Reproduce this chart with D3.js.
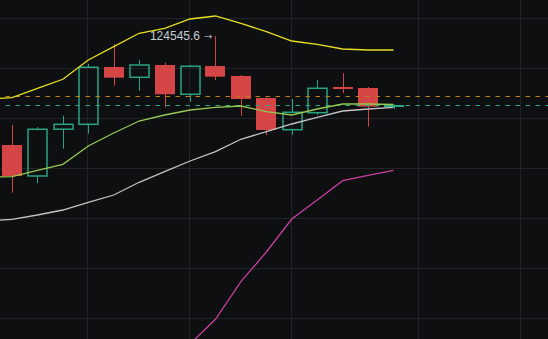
<!DOCTYPE html>
<html>
<head>
<meta charset="utf-8">
<script src="https://cdn.jsdelivr.net/npm/d3@7"></script>
<style>
	html, body { margin: 0; padding: 0; background: #0e0f11; overflow: hidden; }
	svg { display: block; }
</style>
</head>
<body>
<script>
// candles (index 0..15)
const opens  = [121825, 121050, 122220, 122343, 123775, 123518, 123825, 123093, 123800, 123550, 123000, 122208, 122633, 123275, 123250, 122783];
const highs  = [122325, 122268, 122558, 123850, 124350, 123950, 123883, 123825, 124545.6, 123575, 123013, 122975, 123450, 123618, 123275, 122838];
const lows   = [120633, 120868, 121733, 122108, 123308, 123175, 122768, 122900, 123450, 122558, 122075, 122075, 122575, 123125, 122283, 122725];
const closes = [121050, 122218, 122343, 123768, 123508, 123825, 123093, 123793, 123533, 122975, 122200, 122643, 123243, 123233, 122783, 122825];

// indicator lines, index -1..15 (first value sits just off the left edge)
const lineIndex = d3.range(-1, 16);
const upperLine = [122975, 123008, 123238, 123468, 123950, 124283, 124618, 124743, 124975, 125050, 124868, 124658, 124425, 124343, 124225, 124200, 124200];
const fastLine  = [121025, 121033, 121188, 121343, 121800, 122125, 122425, 122575, 122700, 122768, 122800, 122658, 122575, 122725, 122850, 122850, 122838];
const midLine   = [119925, 119968, 120075, 120200, 120393, 120575, 120893, 121158, 121425, 121658, 121968, 122158, 122350, 122518, 122675, 122725, 122768];
const lowerLine = [null, null, null, null, null, null, null, null, 116850, 117468, 118408, 119150, 119975, 120450, 120933, 121063, 121193];

const gridPrices = [125000, 123750, 122500, 121250, 120000, 118750, 117500];
const gridIndex = [3, 7, 11, 16, 20];
const markPrice = 123040;
const lastPrice = closes[closes.length - 1];
const highLabel = `124545.6`;

const width = 548, height = 339;
const up = `#28a482`, down = `#d64545`;

const x = d3.scaleLinear().domain([0, 15]).range([12, 393.5]);
const y = d3.scaleLinear().domain([125000, 117500]).range([18, 318]);
const px = v => Math.round(v) + 0.5;

const svg = d3
	.select(`body`)
	.append(`svg`)
	.attr(`width`, width)
	.attr(`height`, height);

svg.append(`rect`).attr(`width`, width).attr(`height`, height).attr(`fill`, `#0e0f11`);

// grid
svg
	.selectAll(`.hgrid`)
	.data(gridPrices)
	.enter()
	.append(`line`)
	.attr(`x1`, 0)
	.attr(`x2`, width)
	.attr(`y1`, d => px(y(d)))
	.attr(`y2`, d => px(y(d)))
	.attr(`stroke`, `#222327`)
	.attr(`stroke-width`, 1);

svg
	.selectAll(`.vgrid`)
	.data(gridIndex)
	.enter()
	.append(`line`)
	.attr(`x1`, d => px(x(d)) - 1)
	.attr(`x2`, d => px(x(d)) - 1)
	.attr(`y1`, 0)
	.attr(`y2`, height)
	.attr(`stroke`, `#222327`)
	.attr(`stroke-width`, 1);

// candles
const candles = opens.map((o, i) => ({ i: i, o: o, h: highs[i], l: lows[i], c: closes[i], rise: closes[i] >= o }));

const g = svg.append(`g`);

candles.forEach(d => {
	const cx = px(x(d.i));
	const top = y(Math.max(d.o, d.c));
	const bot = y(Math.min(d.o, d.c));
	const col = d.rise ? up : down;
	if (d.rise && bot - top > 3) {
		g.append(`line`).attr(`x1`, cx).attr(`x2`, cx).attr(`y1`, y(d.h)).attr(`y2`, top).attr(`stroke`, col);
		g.append(`line`).attr(`x1`, cx).attr(`x2`, cx).attr(`y1`, bot).attr(`y2`, y(d.l)).attr(`stroke`, col);
		g
			.append(`rect`)
			.attr(`x`, cx - 9.5)
			.attr(`y`, top)
			.attr(`width`, 19)
			.attr(`height`, bot - top)
			.attr(`fill`, `none`)
			.attr(`stroke`, col)
			.attr(`stroke-width`, 1.5);
	} else {
		g.append(`line`).attr(`x1`, cx).attr(`x2`, cx).attr(`y1`, y(d.h)).attr(`y2`, y(d.l)).attr(`stroke`, col);
		g
			.append(`rect`)
			.attr(`x`, cx - 10.5)
			.attr(`y`, top)
			.attr(`width`, 20)
			.attr(`height`, Math.max(bot - top, 2))
			.attr(`fill`, col);
	}
});

// dashed price lines
[[markPrice, `#b8801c`], [lastPrice, `#2aa88a`]].forEach(p => {
	svg
		.append(`line`)
		.attr(`x1`, 0)
		.attr(`x2`, width)
		.attr(`y1`, px(y(p[0])))
		.attr(`y2`, px(y(p[0])))
		.attr(`stroke`, p[1])
		.attr(`stroke-width`, 1)
		.attr(`stroke-dasharray`, `4.5,5.5`)
		.attr(`stroke-dashoffset`, 4.5);
});

// indicator lines
const line = d3
	.line()
	.defined(d => d[1] !== null)
	.x(d => x(d[0]))
	.y(d => y(d[1]));

[[upperLine, `#eadf20`], [midLine, `#c4c4c4`], [lowerLine, `#c8409e`], [fastLine, `#96c850`]].forEach(s => {
	svg
		.append(`path`)
		.datum(lineIndex.map((idx, k) => [idx, s[0][k]]))
		.attr(`d`, line)
		.attr(`fill`, `none`)
		.attr(`stroke`, s[1])
		.attr(`stroke-width`, 1.3);
});

// high label
const labelY = y(highs[8]) + 3.5;
svg
	.append(`text`)
	.attr(`x`, px(x(8)) - 15.5)
	.attr(`y`, labelY)
	.attr(`text-anchor`, `end`)
	.attr(`fill`, `#c6ccd4`)
	.style(`font-family`, `"Liberation Sans", Arial, sans-serif`)
	.style(`font-size`, `12px`)
	.text(highLabel);

svg
	.append(`text`)
	.attr(`x`, px(x(8)) - 11.5)
	.attr(`y`, labelY)
	.attr(`fill`, `#a4aab2`)
	.style(`font-family`, `"DejaVu Sans", sans-serif`)
	.style(`font-size`, `10px`)
	.text(`\u2192`);
</script>
</body>
</html>
